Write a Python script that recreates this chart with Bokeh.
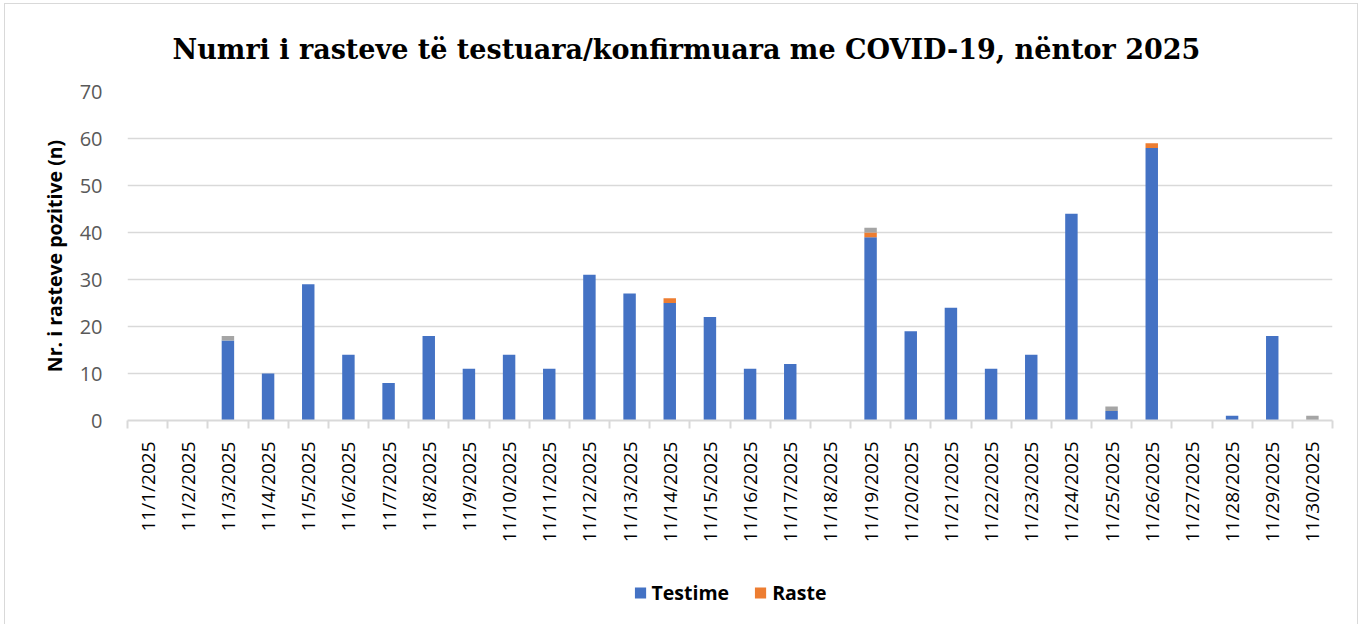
from bokeh.plotting import figure
from bokeh.models import (Range1d, FixedTicker, Legend, LegendItem, ColumnDataSource,
                          LinearAxis, Title)
from bokeh.layouts import column
from bokeh.embed import file_html
from bokeh.resources import INLINE
import math

# ---- data ----
dates = [f"11/{d}/2025" for d in range(1, 31)]
testime = [0, 0, 17, 10, 29, 14, 8, 18, 11, 14, 11, 31, 27, 25, 22, 11, 12, 0,
           39, 19, 24, 11, 14, 44, 2, 58, 0, 1, 18, 0]
raste = [0, 0, 0, 0, 0, 0, 0, 0, 0, 0, 0, 0, 0, 1, 0, 0, 0, 0,
         1, 0, 0, 0, 0, 0, 0, 1, 0, 0, 0, 0]
tjera = [0, 0, 1, 0, 0, 0, 0, 0, 0, 0, 0, 0, 0, 0, 0, 0, 0, 0,
         1, 0, 0, 0, 0, 0, 1, 0, 0, 0, 0, 1]
y_ticks = [0, 10, 20, 30, 40, 50, 60, 70]
title_text = "Numri i rasteve të testuara/konfirmuara me COVID-19, nëntor 2025"
y_label = "Nr. i rasteve pozitive (n)"
legend_labels = ["Testime", "Raste"]

colors = ["#4472C4", "#ED7D31", "#A5A5A5"]

xpos = [i + 0.5 for i in range(len(dates))]
src = ColumnDataSource(dict(x=xpos, testime=testime, raste=raste, tjera=tjera))

p = figure(width=1352, height=556, output_backend="svg", toolbar_location=None,
           x_range=Range1d(0, len(dates)), y_range=Range1d(0, 70),
           min_border_left=122, min_border_right=25, min_border_top=86, min_border_bottom=140,
           x_axis_location=None, y_axis_location=None)
p.background_fill_color = "white"
p.border_fill_color = "white"
p.outline_line_color = None

rs = p.vbar_stack(["testime", "raste", "tjera"], x="x", width=0.31, source=src,
                  color=colors, line_color=None)

# title
p.title = Title(text=title_text, align="left", text_font="DejaVu Serif",
                text_font_size="27px", text_font_style="bold", text_color="#000000",
                standoff=54, offset=45)

# y axis
yax = LinearAxis(ticker=FixedTicker(ticks=y_ticks))
yax.axis_line_color = None
yax.major_tick_line_color = None
yax.minor_tick_line_color = None
yax.major_label_text_font = "Open Sans"
yax.major_label_text_font_size = "20px"
yax.major_label_text_color = "#595959"
yax.major_label_standoff = 19
yax.axis_label = y_label
yax.axis_label_text_font = "Open Sans"
yax.axis_label_text_font_size = "19.5px"
yax.axis_label_text_font_style = "bold"
yax.axis_label_text_color = "#000000"
yax.axis_label_standoff = 9
p.add_layout(yax, "left")

# x axis with ticks at category boundaries
xax = LinearAxis(ticker=FixedTicker(ticks=xpos, minor_ticks=list(range(len(dates) + 1))))
xax.major_label_overrides = {x: d for x, d in zip(xpos, dates)}
xax.major_label_orientation = math.pi / 2
xax.major_tick_line_color = None
xax.minor_tick_line_color = "#d9d9d9"
xax.minor_tick_out = 8
xax.minor_tick_in = 0
xax.minor_tick_line_width = 2
xax.axis_line_color = "#d9d9d9"
xax.axis_line_width = 2
xax.major_label_text_font = "Open Sans"
xax.major_label_text_font_size = "19px"
xax.major_label_text_color = "#000000"
xax.major_label_standoff = 13
p.add_layout(xax, "below")

p.ygrid.grid_line_color = "#d9d9d9"
p.ygrid.grid_line_width = 1.6
p.ygrid.ticker = FixedTicker(ticks=y_ticks)
p.xgrid.grid_line_color = None

# legend strip below the chart (key renderers lie outside its visible y range)
p2 = figure(width=1352, height=64, output_backend="svg", toolbar_location=None,
            x_range=Range1d(0, len(dates)), y_range=Range1d(100, 101),
            min_border_left=0, min_border_right=0, min_border_top=0, min_border_bottom=0,
            x_axis_location=None, y_axis_location=None)
p2.outline_line_color = None
p2.background_fill_color = "white"
p2.border_fill_color = "white"
p2.xgrid.grid_line_color = None
p2.ygrid.grid_line_color = None
key1 = p2.vbar(x="x", top="testime", width=0.31, source=src, color=colors[0], line_color=None)
key2 = p2.vbar(x="x", top="raste", width=0.31, source=src, color=colors[1], line_color=None)

legend = Legend(items=[LegendItem(label=legend_labels[0], renderers=[key1]),
                       LegendItem(label=legend_labels[1], renderers=[key2])],
                orientation="horizontal", location="center",
                label_text_font="Open Sans", label_text_font_size="19.5px",
                label_text_font_style="bold", label_text_color="#000000",
                glyph_width=14, glyph_height=14, label_standoff=5, spacing=24,
                border_line_color=None, background_fill_alpha=0, margin=0, padding=2)
p2.add_layout(legend, "center")

layout = column(p, p2, spacing=0,
                styles={"border": "1px solid #d9d9d9", "border-bottom": "none",
                        "margin-left": "4px", "margin-top": "3px"})

open("out.html", "w").write(file_html(layout, INLINE))
